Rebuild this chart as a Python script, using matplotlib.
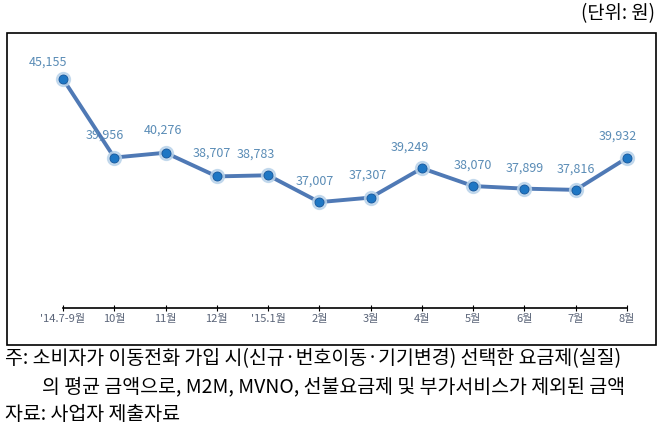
import matplotlib.pyplot as plt
from matplotlib.patches import Rectangle

plt.rcParams['font.family'] = ['Noto Sans CJK KR', 'DejaVu Sans']

# 데이터
months = ["'14.7-9월", '10월', '11월', '12월', "'15.1월", '2월', '3월', '4월', '5월', '6월', '7월', '8월']
prices = [45155, 39956, 40276, 38707, 38783, 37007, 37307, 39249, 38070, 37899, 37816, 39932]
label_dx = [-11, -6.5, -2, -3.5, -8.5, -3.5, -2, -8.5, 0, 0, 0, -6.5]
label_dy = [12, 16, 16, 17, 15, 15, 16, 15, 15, 15, 15, 16]

W, H = 666, 437
fig = plt.figure(figsize=(W / 100, H / 100), dpi=100)

# 바깥 테두리
fig.patches.append(Rectangle((7 / W, 1 - 345 / H), 649 / W, 312 / H,
                             transform=fig.transFigure, fill=False,
                             edgecolor='black', linewidth=1.2))

ax = fig.add_axes([63 / W, 1 - 308 / H, 564 / W, 268 / H])
x = list(range(len(months)))
ax.plot(x, prices, color='#4f79b5', linewidth=2.8, zorder=2, clip_on=False)
ax.plot(x, prices, 'o', markersize=10, color='#b9d3ea', alpha=0.8, zorder=3, clip_on=False)
ax.plot(x, prices, 'o', markersize=6.5, color='#1f77c4', markeredgecolor='#15569a',
        markeredgewidth=0.6, zorder=4, clip_on=False)

for xi, p, dx, dy in zip(x, prices, label_dx, label_dy):
    ax.annotate(f'{p:,}', (xi, p), xytext=(dx, dy), textcoords='offset points',
                ha='center', va='center', fontsize=9, color='#5a8cb6')

ax.set_xlim(0, 11)
ax.set_ylim(30000, 47735)
ax.set_xticks(x)
ax.set_xticklabels(months, fontsize=8, color='#5a6478')
ax.set_yticks([])
for s in ['top', 'right', 'left']:
    ax.spines[s].set_visible(False)
ax.spines['bottom'].set_linewidth(1.2)
ax.tick_params(axis='x', direction='inout', length=4, width=0.8, pad=2)

fig.text(655 / W, 1 - 14 / H, '(단위: 원)', ha='right', va='center', fontsize=13.5)

fig.text(5 / W, 1 - 359 / H, '주: 소비자가 이동전화 가입 시(신규·번호이동·기기변경) 선택한 요금제(실질)',
         ha='left', va='center', fontsize=14)
fig.text(42 / W, 1 - 387 / H, '의 평균 금액으로, M2M, MVNO, 선불요금제 및 부가서비스가 제외된 금액',
         ha='left', va='center', fontsize=14)
fig.text(5 / W, 1 - 415 / H, '자료: 사업자 제출자료', ha='left', va='center', fontsize=14)

fig.savefig('out.png', dpi=100)
